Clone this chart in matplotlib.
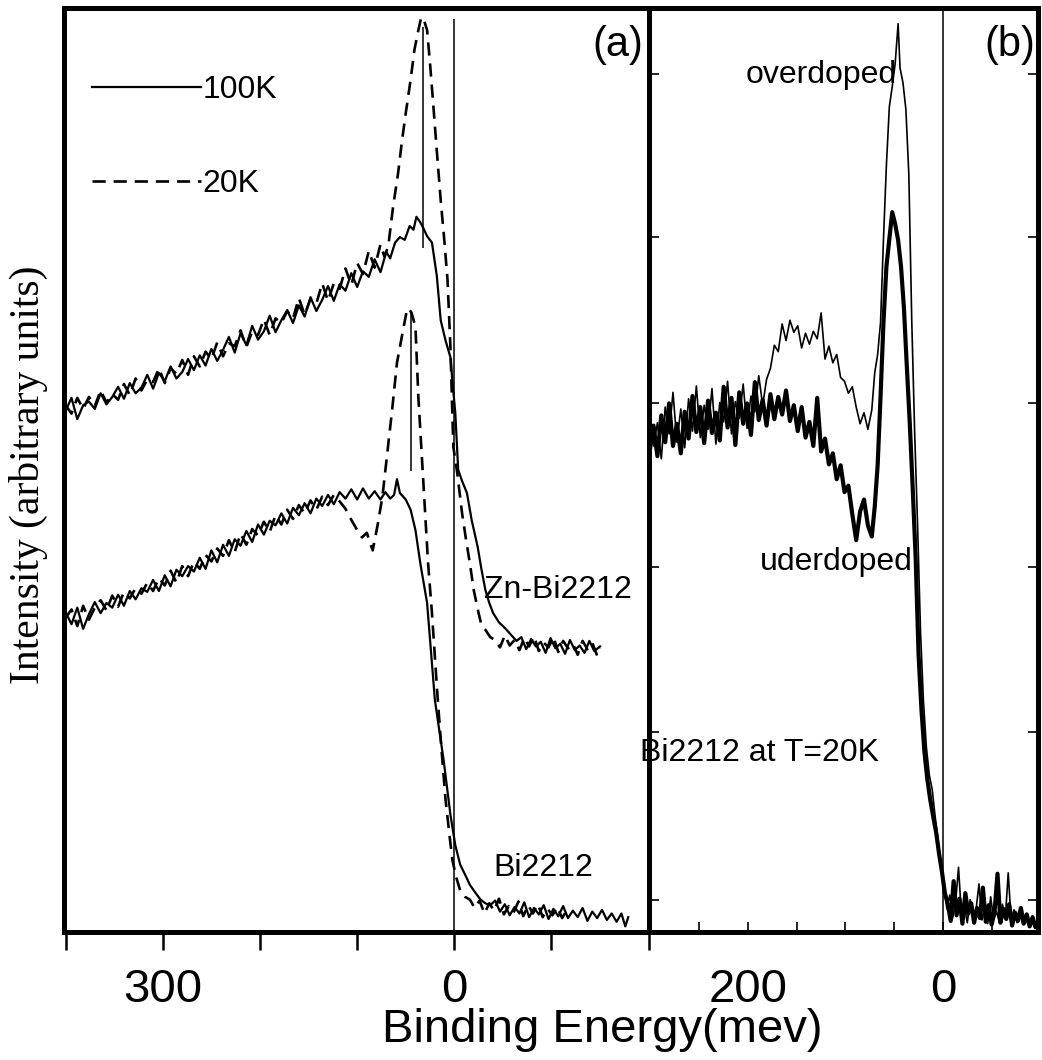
import numpy as np
import matplotlib.pyplot as plt

plt.rcParams['font.family'] = ['Liberation Sans', 'DejaVu Sans']

# panel (a): (binding energy meV, intensity arb. units)
zn_100k = [(400, 56.4), (394, 57.8), (388, 55.5), (382, 57.0), (376, 57.4), (370, 56.6), (364, 58.3),
           (358, 57.1), (352, 57.9), (346, 59.0), (340, 57.7), (334, 59.4), (328, 58.3), (322, 58.9),
           (316, 60.3), (310, 58.8), (304, 60.5), (298, 59.6), (292, 61.2), (286, 59.9), (280, 60.6),
           (274, 62.0), (268, 60.8), (262, 62.4), (256, 61.3), (250, 63.1), (244, 61.8), (238, 63.0),
           (232, 64.4), (226, 62.7), (220, 64.8), (214, 63.5), (208, 65.6), (202, 64.1), (196, 65.0),
           (190, 66.7), (184, 64.9), (178, 66.2), (172, 67.3), (166, 65.9), (160, 67.8), (154, 66.6),
           (148, 68.7), (142, 67.2), (136, 68.4), (130, 69.9), (124, 68.3), (118, 70.1), (112, 69.4),
           (106, 71.3), (100, 69.8), (94, 71.5), (88, 70.9), (82, 72.8), (76, 71.4), (70, 73.6),
           (66, 72.9), (61, 74.6), (56, 75.2), (51, 74.9), (46, 76.4), (42, 76.0), (39, 77.4),
           (35, 76.8), (32, 76.2), (28, 75.3), (23, 74.6), (18, 71.0), (14, 66.2), (9, 64.0),
           (4, 62.2), (1, 58.5), (-1, 56.2), (-4, 50.0), (-8, 48.8), (-13, 47.5), (-18, 44.5),
           (-24, 41.7), (-28, 39.2), (-32, 37.0), (-36, 35.6), (-40, 34.5), (-46, 33.5), (-52, 32.9),
           (-58, 32.2), (-64, 31.5), (-69, 31.9), (-74, 30.6), (-79, 31.7), (-84, 30.9), (-89, 31.4),
           (-94, 30.2), (-99, 31.8), (-104, 30.7), (-109, 31.2), (-114, 30.1), (-119, 31.6),
           (-124, 30.5), (-129, 31.0), (-134, 30.2), (-139, 31.5), (-144, 30.4), (-150, 30.9)]

zn_20k = [(400, 57.0), (394, 56.1), (388, 57.8), (382, 56.6), (376, 57.9), (370, 56.9), (364, 58.6),
          (358, 57.3), (352, 58.2), (346, 57.6), (340, 59.3), (334, 58.1), (328, 59.9), (322, 58.6),
          (316, 59.8), (310, 59.5), (304, 61.0), (298, 59.4), (292, 61.0), (286, 60.4), (280, 61.9),
          (274, 60.3), (268, 62.3), (262, 61.2), (256, 62.8), (250, 62.0), (244, 63.8), (238, 62.3),
          (232, 63.7), (226, 63.4), (220, 65.1), (214, 63.3), (208, 65.0), (202, 64.6), (196, 66.3),
          (190, 64.6), (184, 66.4), (178, 65.9), (172, 67.2), (166, 66.4), (160, 68.6), (154, 66.8),
          (148, 68.5), (142, 68.0), (136, 70.2), (130, 68.3), (124, 70.2), (118, 69.6), (112, 71.8),
          (106, 70.0), (100, 72.4), (94, 71.2), (88, 73.7), (82, 71.9), (76, 74.4), (72, 73.1),
          (68, 74.2), (63, 78.5), (58, 82.0), (54, 85.5), (50, 88.6), (45, 92.2), (41, 95.5),
          (37, 97.6), (34, 99.0), (31, 98.6), (28, 97.6), (25, 94.0), (22, 90.0), (18, 84.5),
          (14, 79.2), (10, 74.5), (7, 70.6), (4, 63.3), (2, 56.0), (1, 52.5), (-3, 49.7),
          (-8, 45.3), (-12, 42.5), (-16, 39.9), (-20, 37.0), (-25, 34.5), (-28, 33.2), (-32, 32.7),
          (-37, 31.9), (-42, 31.6), (-47, 30.8), (-52, 32.1), (-57, 31.0), (-62, 31.6), (-67, 30.5),
          (-72, 31.8), (-77, 30.9), (-82, 32.0), (-87, 30.4), (-92, 31.3), (-97, 30.8), (-102, 31.9),
          (-107, 30.3), (-112, 31.5), (-117, 30.7), (-122, 31.2), (-127, 30.0), (-132, 31.5),
          (-137, 30.6), (-142, 31.3), (-147, 29.9), (-150, 30.7)]

bi_100k = [(400, 34.6), (394, 33.3), (388, 35.1), (382, 32.8), (376, 34.4), (370, 35.7), (364, 34.5),
           (358, 35.6), (352, 35.1), (346, 36.5), (340, 35.3), (334, 36.9), (328, 36.0), (322, 37.2),
           (316, 36.8), (310, 38.1), (304, 36.9), (298, 38.6), (292, 37.4), (286, 39.2), (280, 38.5),
           (274, 39.6), (268, 39.0), (262, 40.5), (256, 39.3), (250, 41.3), (244, 40.0), (238, 41.9),
           (232, 40.7), (226, 42.5), (220, 41.8), (214, 43.4), (208, 42.2), (202, 44.1), (196, 43.0),
           (190, 44.5), (184, 44.0), (178, 45.3), (172, 44.2), (166, 45.9), (160, 45.1), (154, 46.4),
           (148, 45.3), (142, 46.9), (136, 46.1), (130, 47.3), (124, 46.3), (118, 47.6), (112, 46.9),
           (106, 47.9), (100, 46.8), (94, 48.0), (88, 46.9), (82, 47.7), (76, 46.8), (71, 47.6),
           (66, 46.9), (62, 47.3), (59, 49.0), (56, 47.5), (50, 46.8), (45, 45.7), (40, 43.5),
           (35, 39.9), (28, 35.6), (20, 25.1), (11, 18.6), (4, 12.7), (-1, 9.4), (-6, 7.3),
           (-12, 6.0), (-16, 5.1), (-22, 4.2), (-27, 3.5), (-32, 3.1), (-37, 2.9), (-42, 3.4),
           (-47, 2.2), (-52, 3.0), (-57, 1.8), (-62, 2.7), (-67, 2.0), (-72, 3.2), (-77, 1.6),
           (-82, 2.6), (-87, 1.9), (-92, 2.9), (-97, 1.4), (-102, 2.5), (-107, 1.7), (-112, 2.8),
           (-117, 1.5), (-122, 2.3), (-127, 1.6), (-132, 2.6), (-137, 1.2), (-142, 2.2), (-147, 1.5),
           (-152, 2.4), (-157, 1.3), (-162, 2.0), (-167, 1.1), (-172, 2.0), (-176, 0.6), (-179, 1.6)]

bi_20k = [(400, 34.0), (394, 34.9), (388, 33.1), (382, 35.3), (376, 33.8), (370, 35.1), (364, 35.9),
          (358, 34.8), (352, 36.4), (346, 35.2), (340, 36.8), (334, 36.1), (328, 37.2), (322, 36.6),
          (316, 37.8), (310, 36.9), (304, 38.3), (298, 37.5), (292, 39.1), (286, 37.8), (280, 39.6),
          (274, 38.5), (268, 40.1), (262, 39.3), (256, 40.8), (250, 40.1), (244, 41.5), (238, 40.7),
          (232, 42.4), (226, 41.1), (220, 43.1), (214, 41.9), (208, 43.6), (202, 42.9), (196, 44.4),
          (190, 43.3), (184, 45.1), (178, 44.1), (172, 45.7), (166, 44.7), (160, 46.2), (154, 45.3),
          (148, 46.7), (142, 45.7), (136, 47.1), (130, 46.2), (124, 47.3), (118, 46.6), (112, 45.8),
          (106, 44.6), (100, 43.5), (95, 42.7), (90, 43.2), (86, 41.9), (84, 41.3), (79, 44.0),
          (74, 47.1), (69, 51.8), (64, 56.5), (59, 61.6), (53, 65.0), (49, 67.2), (47, 67.5),
          (44, 67.0), (40, 65.5), (37, 57.9), (32, 48.9), (27, 39.9), (23, 34.5), (17, 25.1),
          (13, 19.5), (9, 14.3), (5, 10.5), (2, 7.8), (-2, 5.9), (-6, 4.5), (-11, 3.8), (-16, 3.5),
          (-21, 2.6), (-26, 3.4), (-31, 2.0), (-36, 3.1), (-41, 2.3), (-46, 3.6), (-51, 1.9),
          (-56, 2.8), (-61, 2.1), (-66, 3.3), (-71, 1.7), (-76, 2.9), (-81, 2.0), (-86, 3.0),
          (-91, 1.6), (-96, 2.5), (-101, 1.8), (-106, 2.7), (-111, 1.5), (-116, 2.4)]

# peak markers in (a): energy, low, high intensity
peak_marks = [(32, 74.0, 97.9), (45, 49.9, 67.1)]

# panel (b): Bi2212 at 20K
underdoped = [(305, 55.5), (301, 52.0), (297, 54.8), (293, 51.5), (289, 55.9), (285, 53.0), (281, 57.2),
              (277, 52.6), (273, 55.0), (269, 51.8), (265, 56.3), (261, 53.4), (257, 58.0), (253, 54.1),
              (249, 56.8), (245, 52.9), (241, 57.5), (237, 54.0), (233, 56.2), (229, 53.2), (225, 59.0),
              (221, 54.6), (217, 57.8), (213, 52.7), (209, 58.4), (205, 55.0), (201, 57.2), (197, 53.8),
              (193, 59.5), (189, 55.4), (185, 57.6), (181, 54.8), (177, 58.2), (173, 55.5), (169, 57.9),
              (165, 56.0), (161, 58.6), (157, 55.3), (153, 57.0), (149, 54.2), (145, 56.8), (141, 53.5),
              (137, 55.2), (133, 52.6), (129, 57.8), (125, 52.0), (121, 53.4), (117, 50.6), (113, 51.8),
              (109, 49.0), (105, 50.5), (101, 47.6), (97, 48.3), (93, 45.2), (89, 42.4), (85, 45.5),
              (81, 46.8), (77, 44.0), (73, 42.8), (70, 46.0), (67, 50.5), (64, 58.0), (61, 66.0),
              (58, 72.0), (55, 75.0), (52, 77.9), (49, 76.6), (46, 74.9), (43, 72.0), (40, 67.5),
              (37, 61.1), (34, 55.0), (31, 48.0), (28, 40.5), (25, 30.0), (22, 24.0), (19, 19.5),
              (16, 16.5), (13, 14.3), (10, 12.5), (7, 10.8), (4, 8.5), (1, 6.5), (-2, 4.2), (-5, 3.0),
              (-8, 1.2), (-11, 5.5), (-14, 1.8), (-17, 3.6), (-20, 0.9), (-23, 4.2), (-26, 2.0),
              (-29, 3.1), (-32, 1.0), (-35, 2.6), (-38, 1.5), (-41, 4.8), (-44, 1.1), (-47, 2.9),
              (-50, 0.8), (-53, 2.2), (-56, 6.3), (-59, 1.0), (-62, 2.5), (-65, 1.4), (-68, 3.0),
              (-71, 0.7), (-74, 2.1), (-77, 1.2), (-80, 2.6), (-83, 0.9), (-86, 1.9), (-89, 0.6),
              (-92, 1.6), (-95, 0.5), (-98, 1.3)]

overdoped = [(305, 53.0), (301, 56.2), (297, 52.6), (293, 55.1), (289, 51.2), (285, 56.8), (281, 53.9),
             (277, 58.4), (273, 53.0), (269, 56.6), (265, 52.4), (261, 57.7), (257, 54.2), (253, 59.1),
             (249, 53.5), (245, 57.0), (241, 54.4), (237, 58.8), (233, 52.8), (229, 57.3), (225, 55.2),
             (221, 59.6), (217, 53.9), (213, 57.4), (209, 55.6), (205, 59.3), (201, 54.5), (197, 58.0),
             (193, 56.3), (189, 60.2), (185, 57.0), (181, 59.8), (177, 61.0), (173, 63.5), (169, 62.8),
             (165, 65.8), (161, 64.0), (157, 66.2), (153, 64.9), (149, 65.6), (145, 63.2), (141, 64.8),
             (137, 63.6), (133, 65.0), (129, 64.2), (125, 67.0), (121, 62.0), (117, 63.4), (113, 61.6),
             (109, 62.5), (105, 60.0), (101, 59.6), (97, 58.3), (93, 59.0), (89, 56.8), (85, 55.0),
             (81, 56.2), (77, 54.4), (73, 56.5), (70, 60.5), (67, 62.5), (64, 66.0), (61, 75.0),
             (58, 83.0), (55, 89.3), (52, 91.5), (49, 94.0), (46, 98.3), (44, 93.5), (41, 91.9),
             (38, 89.0), (35, 82.0), (32, 66.2), (29, 54.0), (26, 44.0), (23, 32.5), (20, 25.0),
             (17, 20.0), (14, 17.0), (11, 15.4), (8, 12.5), (5, 10.0), (2, 7.2), (-1, 5.6), (-4, 2.5),
             (-7, 4.0), (-10, 1.5), (-13, 3.2), (-16, 7.0), (-19, 1.8), (-22, 2.8), (-25, 1.0),
             (-28, 3.5), (-31, 1.6), (-34, 2.4), (-37, 5.2), (-40, 1.3), (-43, 2.7), (-46, 0.9),
             (-49, 3.8), (-52, 1.4), (-55, 2.2), (-58, 1.0), (-61, 3.0), (-64, 1.5), (-67, 6.4),
             (-70, 1.2), (-73, 2.4), (-76, 1.0), (-79, 2.0), (-82, 0.8), (-85, 1.8), (-88, 0.7),
             (-91, 1.5), (-94, 0.6), (-97, 1.1)]

ticks_a = [400, 300, 200, 100, 0, -100, -200]
ticklabels_a = ['', '300', '', '', '0', '', '']
ticks_b = [300, 250, 200, 150, 100, 50, 0, -50]
ticklabels_b = ['', '', '200', '', '', '', '0', '']
yticks_b = [3.5, 21.6, 39.5, 57.2, 75.2, 92.8]

fig = plt.figure(figsize=(10.42, 10.60), dpi=100)
ax_a = fig.add_axes([0.0616, 0.1208, 0.5609, 0.8717])
ax_b = fig.add_axes([0.6225, 0.1208, 0.3736, 0.8717])

solid_kw = dict(color='black', lw=1.6)
dash_kw = dict(color='black', lw=1.9, dashes=(5, 3))

e, i = np.array(zn_100k).T
h100, = ax_a.plot(e, i, label='100K', **solid_kw)
e, i = np.array(zn_20k).T
h20, = ax_a.plot(e, i, label='20K', **dash_kw)
e, i = np.array(bi_100k).T
ax_a.plot(e, i, **solid_kw)
e, i = np.array(bi_20k).T
ax_a.plot(e, i, **dash_kw)

ax_a.vlines(0, 0, 98.8, color='black', lw=1.1)
for pe, lo, hi in peak_marks:
    ax_a.vlines(pe, lo, hi, color='black', lw=1.1)

ax_a.set_xlim(401.5, -200)
ax_a.set_ylim(0, 100)
ax_a.set_xticks(ticks_a)
ax_a.set_xticklabels(ticklabels_a)
ax_a.set_yticks([])
ax_a.tick_params(axis='x', direction='out', length=13, width=1.8, pad=13, labelsize=34)
for s in ax_a.spines.values():
    s.set_linewidth(3.6)
ax_a.spines['right'].set_visible(False)

ax_a.legend(handles=[h100, h20], loc='upper left', bbox_to_anchor=(0.048, 0.927), frameon=False,
            fontsize=23, handlelength=3.4, handletextpad=0.05, labelspacing=2.0,
            borderpad=0, borderaxespad=0)

ax_a.text(0.948, 0.96, '(a)', transform=ax_a.transAxes, fontsize=30, ha='center', va='center')
ax_a.text(-31, 37.0, 'Zn-Bi2212', fontsize=23, ha='left', va='center')
ax_a.text(-40, 6.9, 'Bi2212', fontsize=23, ha='left', va='center')

# panel (b)
e, i = np.array(underdoped).T
ax_b.plot(e, i, color='black', lw=3.0)
e, i = np.array(overdoped).T
ax_b.plot(e, i, color='black', lw=1.2)
ax_b.axvline(0, color='black', lw=1.1)

ax_b.set_xlim(302, -97.5)
ax_b.set_ylim(0, 100)
ax_b.set_xticks(ticks_b)
ax_b.set_xticklabels(ticklabels_b)
ax_b.set_yticks(yticks_b)
ax_b.set_yticklabels([])
ax_b.tick_params(axis='x', direction='in', length=7, width=1.2, pad=26, labelsize=34)
ax_b.tick_params(axis='y', direction='in', length=7, width=1.2, left=True, right=True)
for s in ax_b.spines.values():
    s.set_linewidth(3.6)

ax_b.text(0.928, 0.96, '(b)', transform=ax_b.transAxes, fontsize=30, ha='center', va='center')
ax_b.text(125, 92.7, 'overdoped', fontsize=23, ha='center', va='center')
ax_b.text(109, 40.0, 'uderdoped', fontsize=23, ha='center', va='center')
ax_b.text(311, 19.4, 'Bi2212 at T=20K', fontsize=23, ha='left', va='center', clip_on=False, zorder=1)

fig.text(28 / 1042, 1 - 475 / 1060, 'Intensity (arbitrary units)', rotation=90, fontsize=30,
         family=['Liberation Serif'], ha='center', va='center')
fig.text(602 / 1042, 1 - 1030 / 1060, 'Binding Energy(mev)', fontsize=34, ha='center', va='center')

fig.savefig('out.png', dpi=100)
